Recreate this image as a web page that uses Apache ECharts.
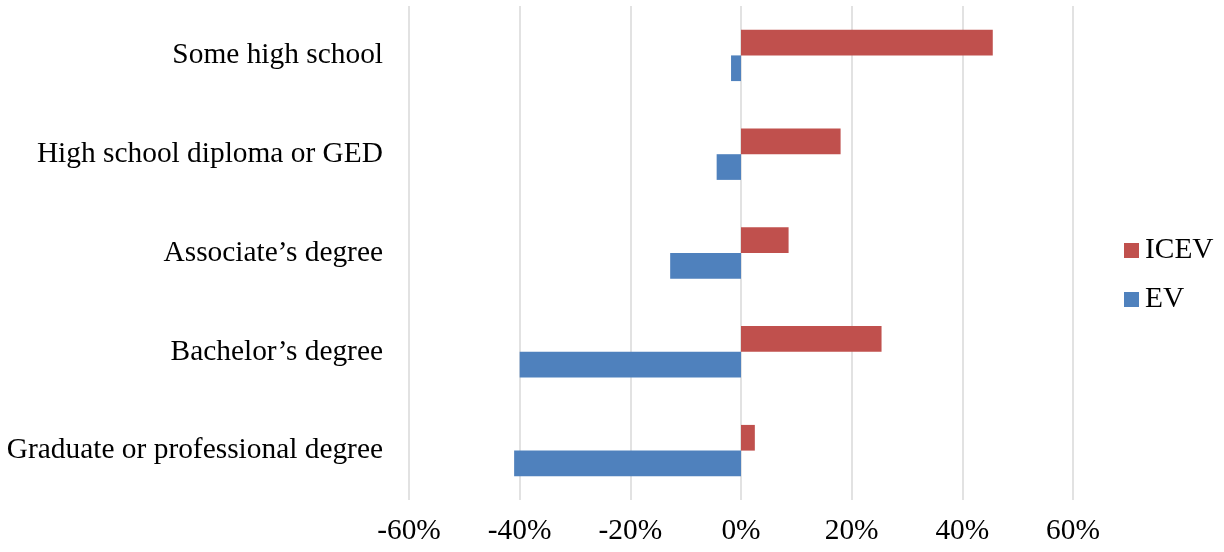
<!DOCTYPE html>
<html>
<head>
<meta charset="utf-8">
<script src="https://cdn.jsdelivr.net/npm/echarts@6/dist/echarts.min.js"></script>
<style>
  html, body { margin: 0; padding: 0; background: #ffffff; }
  #chart { width: 1224px; height: 552px; }
</style>
</head>
<body>
<div id="chart"></div>
<script>
// Education levels, listed top to bottom
const categories = [
  'Some high school',
  'High school diploma or GED',
  'Associate\u2019s degree',
  'Bachelor\u2019s degree',
  'Graduate or professional degree'
];

// Percentage change by education level
const icevValues = [45.5, 18.0, 8.6, 25.4, 2.5];
const evValues = [-1.8, -4.4, -12.8, -40.0, -41.0];

// Value axis ticks (percent)
const xMin = -60;
const xMax = 60;
const xStep = 20;

const FONT = "'Liberation Serif', 'Times New Roman', serif";
const FONT_SIZE = 29.4;

const chart = echarts.init(document.getElementById('chart'), null, { renderer: 'canvas' });

chart.setOption({
  backgroundColor: '#ffffff',
  animation: false,
  textStyle: { fontFamily: FONT },
  grid: { left: 409, right: 151, top: 6, bottom: 52, containLabel: false },
  legend: {
    orient: 'vertical',
    left: 1124,
    top: 236,
    padding: 0,
    icon: 'rect',
    itemWidth: 15,
    itemHeight: 15,
    itemGap: 20,
    itemStyle: { borderWidth: 0 },
    textStyle: { fontFamily: FONT, fontSize: FONT_SIZE, color: '#000000', padding: [0, 0, 0, 1] },
    data: ['ICEV', 'EV']
  },
  xAxis: {
    type: 'value',
    min: xMin,
    max: xMax,
    interval: xStep,
    axisLine: { show: false },
    axisTick: { show: false },
    axisLabel: {
      formatter: '{value}%',
      fontFamily: FONT,
      fontSize: FONT_SIZE,
      color: '#000000',
      margin: 17
    },
    splitLine: { show: true, lineStyle: { color: '#d9d9d9', width: 1.5 } }
  },
  yAxis: {
    type: 'category',
    inverse: true,
    data: categories,
    axisLine: { show: false },
    axisTick: { show: false },
    splitLine: { show: false },
    axisLabel: {
      fontFamily: FONT,
      fontSize: FONT_SIZE,
      color: '#000000',
      margin: 26,
      padding: [4, 0, 0, 0]
    }
  },
  series: [
    {
      name: 'ICEV',
      type: 'bar',
      data: icevValues,
      barGap: '0%',
      barCategoryGap: '48%',
      itemStyle: { color: '#c0504d' }
    },
    {
      name: 'EV',
      type: 'bar',
      data: evValues,
      barGap: '0%',
      barCategoryGap: '48%',
      itemStyle: { color: '#4f81bd' }
    }
  ]
});
</script>
</body>
</html>
